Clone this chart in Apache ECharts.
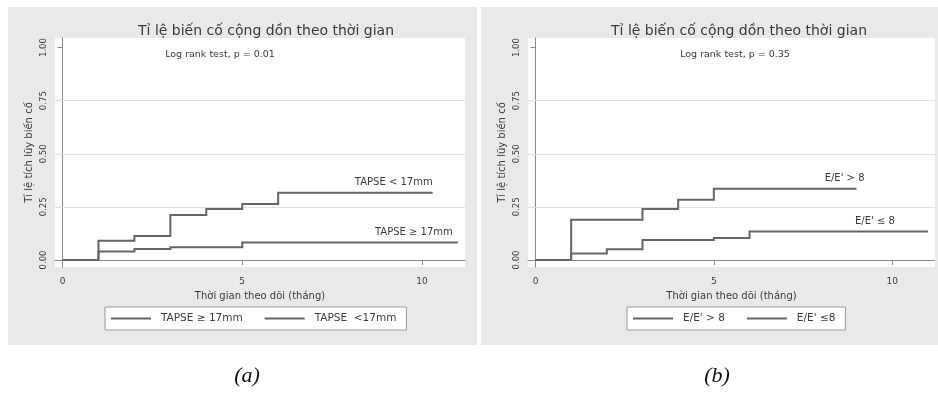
<!DOCTYPE html>
<html><head><meta charset="utf-8">
<script src="https://cdn.jsdelivr.net/npm/echarts@6/dist/echarts.min.js"></script>
<style>html,body{margin:0;padding:0;background:#fff}#c{width:938px;height:398px}</style>
</head><body><div id="c"></div>
<script>
// ---- data ----
const chartTitle = 'Tỉ lệ biến cố cộng dồn theo thời gian';
const yAxisTitle = 'Tỉ lệ tích lũy biến cố';
const xAxisTitle = 'Thời gian theo dõi (tháng)';
const xTicks = [0, 5, 10];
const yTicks = [0, 0.25, 0.5, 0.75, 1];
const gridValues = [0.25, 0.5, 0.75];
const testA = 'Log rank test, p = 0.01';
const testB = 'Log rank test, p = 0.35';
const captions = ['(a)', '(b)'];

const namesA = ['TAPSE ≥ 17mm', 'TAPSE  <17mm'];
const curveLabelsA = ['TAPSE ≥ 17mm', 'TAPSE < 17mm'];
const timesA1 = [0, 1, 2, 3, 5, 11];
const valuesA1 = [0, 0.04, 0.052, 0.06, 0.082, 0.082];
const timesA2 = [0, 1, 2, 3, 4, 5, 6, 10.3];
const valuesA2 = [0, 0.09, 0.113, 0.212, 0.24, 0.263, 0.317, 0.317];

const namesB = ["E/E' > 8", "E/E' ≤8"];
const curveLabelsB = ["E/E' > 8", "E/E' ≤ 8"];
const timesB1 = [0, 1, 3, 4, 5, 9];
const valuesB1 = [0, 0.19, 0.24, 0.283, 0.335, 0.335];
const timesB2 = [0, 1, 2, 3, 5, 6, 11];
const valuesB2 = [0, 0.03, 0.05, 0.094, 0.103, 0.134, 0.134];

// ---- chart ----
const FONT = 'DejaVu Sans';
const TXT = '#3a3a3a';
const LINE = '#666666';
const X_MIN = -0.21, X_MAX = 11.2, Y_MIN = -0.033, Y_MAX = 1.045;

// Kaplan-Meier style step curve (horizontal then vertical), drawn through the axes' scales
function curve(name, times, values, gridIdx, labelText, labelOffset, withGrid) {
  const n = times.length;
  const s = {
    type: 'custom', name, xAxisIndex: gridIdx, yAxisIndex: gridIdx,
    data: times.map((t, i) => [t, values[i]]),
    encode: { x: 0, y: 1 },
    itemStyle: { color: LINE }, silent: true, z: 3,
    renderItem: (params, api) => {
      if (params.dataIndex !== n - 1) return null;
      const pts = [];
      for (let i = 0; i < n; i++) {
        if (i > 0) pts.push(api.coord([times[i], values[i - 1]]));
        pts.push(api.coord([times[i], values[i]]));
      }
      const end = api.coord([times[n - 1], values[n - 1]]);
      return {
        type: 'group',
        children: [
          { type: 'polyline', shape: { points: pts },
            style: { stroke: LINE, lineWidth: 2, fill: null, lineJoin: 'miter' } },
          { type: 'text',
            style: { text: labelText, x: end[0] + labelOffset[0], y: end[1] - 5 + labelOffset[1],
              align: 'right', verticalAlign: 'bottom', fill: TXT,
              font: '10px "DejaVu Sans"' } }
        ]
      };
    }
  };
  if (withGrid) {
    s.markLine = {
      silent: true, symbol: 'none', label: { show: false },
      lineStyle: { color: '#e0e0e0', width: 1, type: 'solid' },
      data: gridValues.map(v => ({ yAxis: v })), z: 1
    };
  }
  return s;
}

function xAxis(gridIndex) {
  return {
    type: 'value', gridIndex, min: X_MIN, max: X_MAX,
    name: xAxisTitle, nameLocation: 'middle', nameGap: 24,
    nameTextStyle: { fontSize: 10, color: TXT, fontFamily: FONT },
    axisLine: { show: true, lineStyle: { color: '#8a8a8a' } },
    axisTick: { show: true, length: 5, customValues: xTicks, lineStyle: { color: '#8a8a8a' } },
    axisLabel: { customValues: xTicks, fontSize: 9, color: TXT, fontFamily: FONT, margin: 10 },
    splitLine: { show: false }
  };
}
function yAxis(gridIndex) {
  return {
    type: 'value', gridIndex, min: Y_MIN, max: Y_MAX,
    name: yAxisTitle, nameLocation: 'middle', nameGap: 21, nameRotate: 90,
    nameTextStyle: { fontSize: 10, color: TXT, fontFamily: FONT },
    axisLine: { show: true, lineStyle: { color: '#8a8a8a' } },
    axisTick: { show: true, length: 5, customValues: yTicks, lineStyle: { color: '#8a8a8a' } },
    axisLabel: { customValues: yTicks, rotate: 90, fontSize: 8.5, color: TXT, fontFamily: FONT, margin: 7,
      formatter: v => v.toFixed(2) },
    splitLine: { show: false }
  };
}
function legend(names, left) {
  return {
    data: names, left, top: 307, orient: 'horizontal', icon: 'rect',
    backgroundColor: '#fff', borderColor: '#9a9a9a', borderWidth: 1, borderRadius: 0,
    padding: [6, 10, 6, 6], itemGap: 22, itemWidth: 40, itemHeight: 2,
    textStyle: { fontSize: 10.5, color: TXT, fontFamily: FONT, padding: [0, 0, 0, 5] },
    selectedMode: false
  };
}

const option = {
  animation: false,
  backgroundColor: '#ffffff',
  graphic: [
    { type: 'rect', shape: { x: 8, y: 7, width: 469, height: 338 }, style: { fill: '#e9e9e9' }, z: -10 },
    { type: 'rect', shape: { x: 481, y: 7, width: 457, height: 338 }, style: { fill: '#e9e9e9' }, z: -10 }
  ],
  title: [
    { text: chartTitle, left: 261, top: 19, textAlign: 'center',
      textStyle: { fontSize: 14, fontWeight: 'normal', color: TXT, fontFamily: FONT } },
    { text: chartTitle, left: 734, top: 19, textAlign: 'center',
      textStyle: { fontSize: 14, fontWeight: 'normal', color: TXT, fontFamily: FONT } },
    { text: testA, left: 215, top: 45, textAlign: 'center',
      textStyle: { fontSize: 9.5, fontWeight: 'normal', color: TXT, fontFamily: FONT } },
    { text: testB, left: 730, top: 45, textAlign: 'center',
      textStyle: { fontSize: 9.5, fontWeight: 'normal', color: TXT, fontFamily: FONT } },
    { text: captions[0], left: 242, top: 360, textAlign: 'center',
      textStyle: { fontSize: 22, fontWeight: 'normal', fontStyle: 'italic', color: '#111', fontFamily: 'Liberation Serif' } },
    { text: captions[1], left: 712, top: 360, textAlign: 'center',
      textStyle: { fontSize: 22, fontWeight: 'normal', fontStyle: 'italic', color: '#111', fontFamily: 'Liberation Serif' } }
  ],
  legend: [legend(namesA, 105), legend(namesB, 627)],
  grid: [
    { left: 55, top: 38, width: 410, height: 229, show: true, backgroundColor: '#fff', borderWidth: 0 },
    { left: 528, top: 38, width: 407, height: 229, show: true, backgroundColor: '#fff', borderWidth: 0 }
  ],
  xAxis: [xAxis(0), xAxis(1)],
  yAxis: [yAxis(0), yAxis(1)],
  series: [
    curve(namesA[0], timesA1, valuesA1, 0, curveLabelsA[0], [-5, 0], true),
    curve(namesA[1], timesA2, valuesA2, 0, curveLabelsA[1], [0, 0], false),
    curve(namesB[0], timesB1, valuesB1, 1, curveLabelsB[0], [8, 0], true),
    curve(namesB[1], timesB2, valuesB2, 1, curveLabelsB[1], [-33, 0], false)
  ]
};
const chart = echarts.init(document.getElementById('c'), null, { renderer: 'canvas' });
chart.setOption(option);
</script>
</body></html>
